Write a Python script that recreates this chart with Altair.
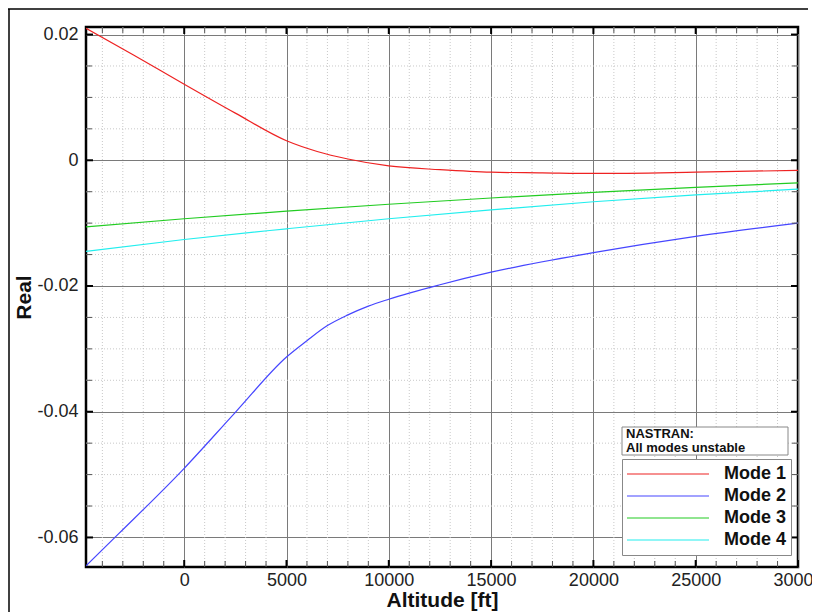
import altair as alt
import pandas as pd

# ---- data ----
alt1 = [-4800, -2500, 0, 2500, 5000, 6500, 8000, 10000, 12500, 15000, 17500, 20000, 25000, 30000]
mode1 = [0.0210, 0.0168, 0.0121, 0.0075, 0.0031, 0.0014, 0.0002, -0.0009, -0.0015, -0.0019, -0.0020, -0.0021, -0.0019, -0.0016]

alt2 = [-4800, -3200, 0, 2500, 5000, 6000, 7000, 8000, 9000, 10000, 12500, 15000, 20000, 25000, 30000]
mode2 = [-0.0645, -0.0594, -0.0490, -0.0401, -0.0313, -0.0287, -0.0263, -0.0246, -0.0232, -0.0221, -0.0198, -0.0178, -0.0147, -0.0121, -0.0100]

alt3 = [-4800, 0, 5000, 10000, 15000, 20000, 25000, 30000]
mode3 = [-0.0106, -0.0093, -0.0081, -0.0070, -0.0060, -0.0051, -0.0043, -0.0036]

alt4 = [-4800, 0, 5000, 10000, 15000, 20000, 25000, 30000]
mode4 = [-0.0145, -0.0126, -0.0109, -0.0093, -0.0079, -0.0066, -0.0055, -0.0046]

modes = ["Mode 1", "Mode 2", "Mode 3", "Mode 4"]
colors = ["#ee2222", "#4646ff", "#22cc22", "#22eeee"]

x_major = [0, 5000, 10000, 15000, 20000, 25000, 30000]
x_minor = [v for v in range(-4000, 30001, 1000) if v % 5000 != 0]
y_major = [-0.06, -0.04, -0.02, 0.0, 0.02]
y_minor = [-0.055, -0.05, -0.045, -0.035, -0.03, -0.025, -0.015, -0.01, -0.005, 0.005, 0.01, 0.015]

x_domain = [-4800, 30000]
y_domain = [-0.0647, 0.0212]

note_lines = ["NASTRAN:", "All modes unstable"]

W, H = 712, 540

# ---- tables ----
rows = []
for name, xs, ys in [("Mode 1", alt1, mode1), ("Mode 2", alt2, mode2),
                     ("Mode 3", alt3, mode3), ("Mode 4", alt4, mode4)]:
    for a, r in zip(xs, ys):
        rows.append({"Altitude": a, "Real": r, "Mode": name})
lines_df = pd.DataFrame(rows)

xmin_df = pd.DataFrame({"x": x_minor})
xmaj_df = pd.DataFrame({"x": x_major})
ymin_df = pd.DataFrame({"y": y_minor})
ymaj_df = pd.DataFrame({"y": y_major})
one = pd.DataFrame({"k": [0]})

xs = alt.Scale(domain=x_domain, nice=False, zero=False)
ys = alt.Scale(domain=y_domain, nice=False, zero=False)

# minor dotted grid
minor_x = alt.Chart(xmin_df).mark_rule(color="#c8c8c8", strokeWidth=1, strokeDash=[1, 2]).encode(
    x=alt.X("x:Q", scale=xs))
minor_y = alt.Chart(ymin_df).mark_rule(color="#c8c8c8", strokeWidth=1, strokeDash=[1, 2]).encode(
    y=alt.Y("y:Q", scale=ys))

# inner ticks on all four sides
def xticks(df, width, length, color):
    b = alt.Chart(df).mark_rule(color=color, strokeWidth=width).encode(
        x=alt.X("x:Q", scale=xs), y=alt.value(H), y2=alt.value(H - length))
    t = alt.Chart(df).mark_rule(color=color, strokeWidth=width).encode(
        x=alt.X("x:Q", scale=xs), y=alt.value(0), y2=alt.value(length))
    return b + t

def yticks(df, width, length, color):
    l = alt.Chart(df).mark_rule(color=color, strokeWidth=width).encode(
        y=alt.Y("y:Q", scale=ys), x=alt.value(0), x2=alt.value(length))
    r = alt.Chart(df).mark_rule(color=color, strokeWidth=width).encode(
        y=alt.Y("y:Q", scale=ys), x=alt.value(W), x2=alt.value(W - length))
    return l + r

lines = alt.Chart(lines_df).mark_line(strokeWidth=1.2, interpolate="monotone", clip=True).encode(
    x=alt.X("Altitude:Q", scale=xs,
            axis=alt.Axis(values=x_major, format="d", grid=True, gridColor="#7a7a7a", gridWidth=1,
                          ticks=False, domain=False, labelFontSize=18, labelColor="#222",
                          labelFont="Liberation Sans", labelPadding=4,
                          title="Altitude [ft]", titleFontSize=21, titleFont="Liberation Sans",
                          titleFontWeight="bold", titleColor="#111", titlePadding=0,
                          labelOverlap=False, labelBound=False, labelFlush=False)),
    y=alt.Y("Real:Q", scale=ys,
            axis=alt.Axis(values=y_major, grid=True, gridColor="#7a7a7a", gridWidth=1,
                          ticks=False, domain=False, labelFontSize=18, labelColor="#222",
                          labelFont="Liberation Sans", labelPadding=8,
                          labelExpr="datum.value == 0 ? '0' : (datum.value < 0 ? '-' : '') + format(abs(datum.value), '.2f')",
                          title="Real", titleFontSize=21, titleFont="Liberation Sans",
                          titleFontWeight="bold", titleColor="#111", titlePadding=2,
                          labelOverlap=False)),
    color=alt.Color("Mode:N", scale=alt.Scale(domain=modes, range=colors),
                    legend=alt.Legend(title=None, orient="none", legendX=536, legendY=432,
                                      symbolType="stroke", symbolSize=6724, symbolStrokeWidth=1.2,
                                      clipHeight=22, rowPadding=0, labelOffset=14,
                                      labelFont="Liberation Sans", labelFontSize=18,
                                      labelFontWeight="bold", labelColor="#111",
                                      padding=4, strokeColor="#888", fillColor="white",
                                      cornerRadius=0)),
)

note_box = alt.Chart(one).mark_rect(fill="white", stroke="#888", strokeWidth=1).encode(
    x=alt.value(536), x2=alt.value(702), y=alt.value(400), y2=alt.value(428))
note_text = alt.Chart(one).mark_text(align="left", baseline="top", font="Liberation Sans",
                                     fontSize=13, fontWeight="bold", color="#111", lineHeight=13.5).encode(
    x=alt.value(540), y=alt.value(401), text=alt.value(note_lines))

frame_left = alt.Chart(one).mark_rule(color="black", strokeWidth=1.5, clip=False).encode(
    x=alt.value(-77), y=alt.value(-18), y2=alt.value(H + 45))
frame_top = alt.Chart(one).mark_rule(color="black", strokeWidth=1.5, clip=False).encode(
    y=alt.value(-18), x=alt.value(-78), x2=alt.value(W + 10))

chart = alt.layer(
    minor_x, minor_y,
    lines,
    xticks(xmin_df, 1, 6, "#555"), xticks(xmaj_df, 2, 7, "black"),
    yticks(ymin_df, 1, 6, "#555"), yticks(ymaj_df, 2, 7, "black"),
    note_box, note_text,
    frame_left, frame_top,
).properties(
    width=W, height=H,
    autosize=alt.AutoSizeParams(type="none"),
    padding={"left": 78, "top": 19, "right": 14, "bottom": 45},
    background="white",
).configure_view(stroke="black", strokeWidth=2.5)

chart.save("out.html", embed_options={"renderer": "svg", "actions": False})
